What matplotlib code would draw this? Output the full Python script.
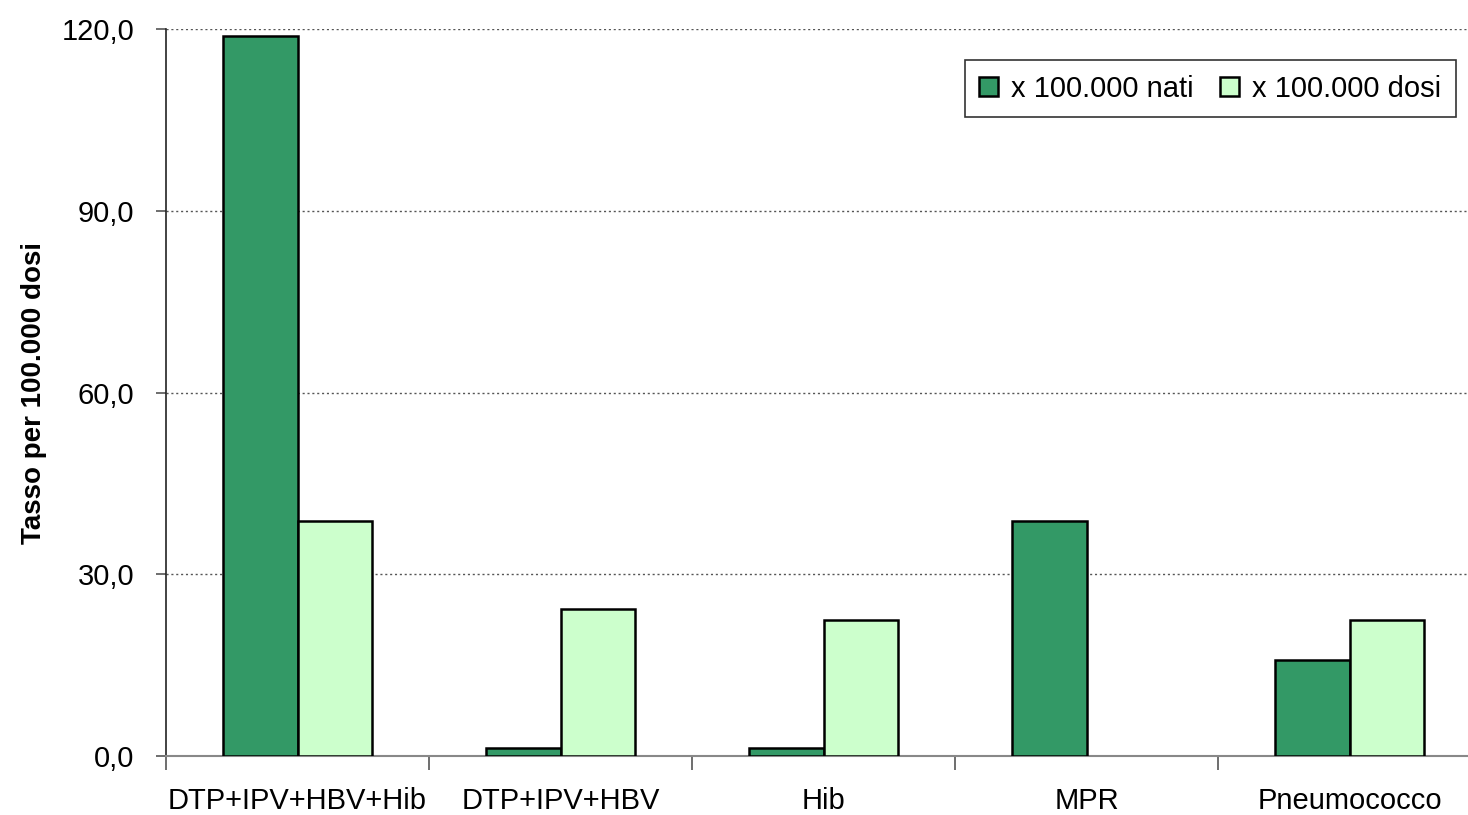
import numpy as np
import matplotlib.pyplot as plt
from matplotlib.ticker import FuncFormatter

plt.rcParams['font.family'] = ['Liberation Sans', 'DejaVu Sans']

categories = ["DTP+IPV+HBV+Hib", "DTP+IPV+HBV", "Hib", "MPR", "Pneumococco"]
nati = [118.8, 1.3, 1.3, 38.8, 15.8]
dosi = [38.8, 24.3, 22.4, 0.0, 22.4]
series_names = ["x 100.000 nati", "x 100.000 dosi"]

fig = plt.figure(figsize=(14.68, 8.15), dpi=100)
ax = fig.add_axes([166/1468, 1-756/815, (1481-166)/1468, (756-29)/815])

x = np.arange(len(categories))
w = 0.285
# empty values are left out, no flat bar drawn
nati_h = np.where(np.array(nati) == 0, np.nan, nati)
dosi_h = np.where(np.array(dosi) == 0, np.nan, dosi)
ax.bar(x - w/2, nati_h, w, color="#339966", edgecolor="black", linewidth=1.8,
       label=series_names[0], zorder=3)
ax.bar(x + w/2, dosi_h, w, color="#CCFFCC", edgecolor="black", linewidth=1.8,
       label=series_names[1], zorder=3)

ax.set_xlim(-0.5, len(categories) - 0.5)
ax.set_ylim(0, 120)
ax.set_yticks([0, 30, 60, 90, 120])
ax.yaxis.set_major_formatter(FuncFormatter(lambda v, p: f"{v:.1f}".replace(".", ",")))
ax.yaxis.grid(True, linestyle=(0, (1.5, 2)), color="#555555", linewidth=1, zorder=0)

ax.set_xticks(np.arange(len(categories) + 1) - 0.5)
ax.set_xticklabels([])
ax.set_xticks(x, minor=True)
ax.set_xticklabels(categories, minor=True)
ax.tick_params(axis="x", which="minor", length=0, pad=22, labelsize=21)
ax.tick_params(axis="x", which="major", length=10, color="#555555", width=1.2)
ax.tick_params(axis="y", length=7, color="#555555", width=1.2, labelsize=21, pad=16)

for s in ["top", "right"]:
    ax.spines[s].set_visible(False)
ax.spines["left"].set_color("#222222")
ax.spines["bottom"].set_color("#888888")
ax.spines["left"].set_linewidth(1.2)
ax.spines["bottom"].set_linewidth(1.5)

ax.set_ylabel("Tasso per 100.000 dosi", fontsize=20, fontweight="bold", labelpad=10)

leg = ax.legend(loc="upper right", bbox_to_anchor=((1456-166)/1315, 1-(60-29)/727),
                ncol=2, fontsize=21, frameon=True, fancybox=False, edgecolor="black",
                handlelength=0.65, handleheight=0.65, handletextpad=0.45, columnspacing=0.9,
                borderpad=0.5, borderaxespad=0)
leg.get_frame().set_linewidth(1.2)

fig.savefig("out.png", dpi=100)
